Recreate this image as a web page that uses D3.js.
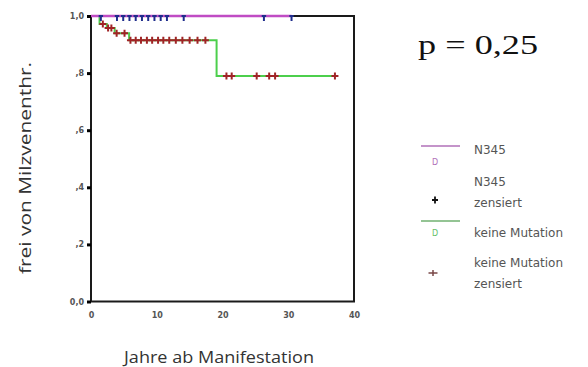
<!DOCTYPE html>
<html>
<head>
<meta charset="utf-8">
<script src="https://cdn.jsdelivr.net/npm/d3@7"></script>
<style>
  body { margin: 0; background: #fff; }
  svg { display: block; }
</style>
</head>
<body>
<div id="chart"></div>
<script>
// chart data
const xTicks = [0, 10, 20, 30, 40];
const yTicks = [0, 0.2, 0.4, 0.6, 0.8, 1.0];
const yTickLabels = ["0,0", ",2", ",4", ",6", ",8", "1,0"];

// N345: no events, only censored cases
const n345End = 30.5;
const n345Censored = [1.5, 3.95, 4.9, 5.85, 6.8, 7.75, 8.7, 9.65, 10.6, 11.55, 14.1, 26.3, 30.5];

// keine Mutation: event times and survival after each event
const kmEventTimes = [1.3, 2.4, 3.6, 5.8, 19.1];
const kmSurvival = [0.972, 0.958, 0.94, 0.915, 0.79];
const kmEnd = 37.1;
const kmCensored = [1.8, 2.6, 3.1, 3.9, 5.1, 6.0, 6.8, 7.6, 8.5, 9.3, 10.2, 11.0, 11.9,
    12.9, 13.9, 15.0, 16.2, 17.4, 20.6, 21.4, 25.2, 27.1, 28.0, 37.1];

const legendLabels = [["N345"], ["N345", "zensiert"], ["keine Mutation"], ["keine Mutation", "zensiert"]];
const pText = "p = 0,25";

// dimensions
const width = 588;
const height = 367;
const plot = { left: 91, right: 354, top: 16, bottom: 301.5 };

const colPurple = "#c04cc4";
const colGreen = "#4ccf4c";
const colRed = "#a02426";
const colBlue = "#1f2d8c";

var svg = d3.select("#chart")
    .append("svg")
    .attr("width", width)
    .attr("height", height);

var x = d3.scaleLinear().domain([0, 40]).range([plot.left, plot.right]);
var y = d3.scaleLinear().domain([0, 1]).range([plot.bottom, plot.top]);

// clip for the censor marks at the top border
svg.append("clipPath").attr("id", "plotclip")
    .append("rect")
    .attr("x", plot.left).attr("y", plot.top - 1)
    .attr("width", plot.right - plot.left + 2)
    .attr("height", plot.bottom - plot.top + 2);

// frame
svg.append("rect")
    .attr("x", plot.left).attr("y", plot.top)
    .attr("width", plot.right - plot.left)
    .attr("height", plot.bottom - plot.top)
    .attr("fill", "none")
    .attr("stroke", "#1a1a1a")
    .attr("stroke-width", 2);

// axes
var yAxis = svg.append("g")
    .attr("transform", "translate(" + plot.left + ",0)")
    .call(d3.axisLeft(y).tickValues(yTicks)
        .tickFormat((d, i) => yTickLabels[i]).tickSize(4).tickPadding(3));
yAxis.select(".domain").remove();
yAxis.selectAll(".tick line").attr("stroke", "#000").attr("stroke-width", 3);
yAxis.selectAll(".tick text")
    .attr("font-family", "DejaVu Sans").attr("font-size", 8).attr("font-weight", "bold")
    .attr("fill", "#555");

var xAxis = svg.append("g")
    .attr("transform", "translate(0," + plot.bottom + ")")
    .call(d3.axisBottom(x).tickValues(xTicks).tickSize(0).tickPadding(11));
xAxis.select(".domain").remove();
xAxis.selectAll(".tick text")
    .attr("font-family", "DejaVu Sans").attr("font-size", 8).attr("font-weight", "bold")
    .attr("fill", "#555");

// axis titles
svg.append("text")
    .attr("transform", "translate(31,168) rotate(-90)")
    .attr("text-anchor", "middle")
    .attr("font-family", "Open Sans").attr("font-size", 17)
    .attr("fill", "#333")
    .attr("textLength", 212).attr("lengthAdjust", "spacingAndGlyphs")
    .text("frei von Milzvenenthr.");

svg.append("text")
    .attr("x", 219).attr("y", 363)
    .attr("text-anchor", "middle")
    .attr("font-family", "Open Sans").attr("font-size", 17)
    .attr("fill", "#333")
    .attr("textLength", 190).attr("lengthAdjust", "spacingAndGlyphs")
    .text("Jahre ab Manifestation");

// survival step curves
var step = d3.line()
    .x(d => x(d[0]))
    .y(d => y(d[1]))
    .curve(d3.curveStepAfter);

var kmPoints = [[0, 1]];
kmEventTimes.forEach((t, i) => kmPoints.push([t, kmSurvival[i]]));
kmPoints.push([kmEnd, kmSurvival[kmSurvival.length - 1]]);

function kmAt(t) {
    var s = 1;
    kmEventTimes.forEach((e, i) => { if (e <= t) s = kmSurvival[i]; });
    return s;
}

svg.append("path")
    .attr("d", step(kmPoints))
    .attr("fill", "none")
    .attr("stroke", colGreen)
    .attr("stroke-width", 2);

svg.append("path")
    .attr("d", step([[0, 1], [n345End, 1]]))
    .attr("fill", "none")
    .attr("stroke", colPurple)
    .attr("stroke-width", 2.5);

// censor marks
function cross(g, cx, cy, w, h, color, sw) {
    g.append("path")
        .attr("d", "M" + (cx - w) + "," + cy + "H" + (cx + w) + "M" + cx + "," + (cy - h) + "V" + (cy + h))
        .attr("stroke", color)
        .attr("stroke-width", sw)
        .attr("fill", "none");
}

var marks = svg.append("g").attr("clip-path", "url(#plotclip)");
kmCensored.forEach(t => cross(marks, x(t), y(kmAt(t)), 3.5, 3.5, colRed, 2));
n345Censored.forEach(t => cross(marks, x(t), y(1), 2.2, 5, colBlue, 2));

// p value
svg.append("text")
    .attr("x", 418).attr("y", 54)
    .attr("font-family", "Liberation Serif").attr("font-size", 28)
    .attr("fill", "#111")
    .attr("textLength", 120).attr("lengthAdjust", "spacingAndGlyphs")
    .text(pText);

// legend
var legend = svg.append("g")
    .attr("font-family", "DejaVu Sans").attr("font-size", 12)
    .attr("fill", "#555");

legend.append("line")
    .attr("x1", 421).attr("x2", 460).attr("y1", 146).attr("y2", 146)
    .attr("stroke", "#b070b8").attr("stroke-width", 1.6);
legend.append("text").attr("x", 435).attr("y", 165)
    .attr("text-anchor", "middle").attr("font-size", 8).attr("fill", "#b070b8").text("D");
cross(legend, 435, 200, 3, 3.5, "#111", 1.8);
legend.append("line")
    .attr("x1", 421).attr("x2", 460).attr("y1", 221).attr("y2", 221)
    .attr("stroke", "#70b070").attr("stroke-width", 1.6);
legend.append("text").attr("x", 435).attr("y", 236)
    .attr("text-anchor", "middle").attr("font-size", 8).attr("fill", "#66c066").text("D");
cross(legend, 433, 273, 4.5, 3, "#7a4848", 1.5);

var legendY = [150, 182, 233, 263];
legendLabels.forEach((lines, i) => {
    var t = legend.append("text")
        .attr("x", 474).attr("y", legendY[i])
        .attr("dominant-baseline", "middle");
    lines.forEach((s, j) => {
        t.append("tspan").attr("x", 474).attr("dy", j === 0 ? 0 : 21).text(s);
    });
});
</script>
</body>
</html>
